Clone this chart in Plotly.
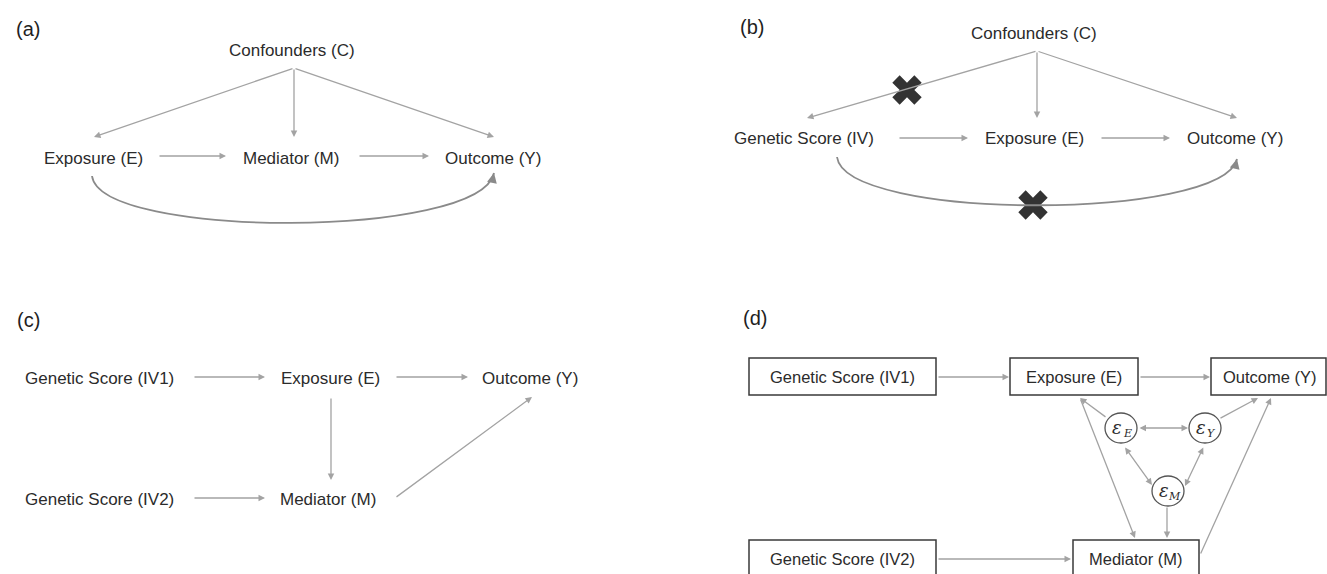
import plotly.graph_objects as go

# ---------------- content (labels / graph structure) ----------------
panel_tags = ["(a)", "(b)", "(c)", "(d)"]

a_nodes = ["Confounders (C)", "Exposure (E)", "Mediator (M)", "Outcome (Y)"]
a_edges = [("C", "E"), ("C", "M"), ("C", "Y"), ("E", "M"), ("M", "Y")]

b_nodes = ["Confounders (C)", "Genetic Score (IV)", "Exposure (E)", "Outcome (Y)"]
b_edges = [("C", "IV"), ("C", "E"), ("C", "Y"), ("IV", "E"), ("E", "Y")]

c_nodes = ["Genetic Score (IV1)", "Exposure (E)", "Outcome (Y)",
           "Genetic Score (IV2)", "Mediator (M)"]
c_edges = [("IV1", "E"), ("E", "Y"), ("E", "M"), ("IV2", "M"), ("M", "Y")]

d_nodes = ["Genetic Score (IV1)", "Exposure (E)", "Outcome (Y)",
           "Genetic Score (IV2)", "Mediator (M)"]
d_error_symbol = "ε"
d_error_subs = ["E", "Y", "M"]
d_edges = [("IV1", "E"), ("E", "Y"), ("IV2", "M"), ("E", "M"), ("M", "Y"),
           ("eE", "E"), ("eY", "Y"), ("eM", "M")]
d_double = [("eE", "eY"), ("eE", "eM"), ("eY", "eM")]

# ---------------- geometry (pixel layout) ----------------
W, H = 1327, 574
tag_pos = [(28, 29), (752, 27), (28, 320), (755, 318)]

a_pos = [(292, 50), (93, 158), (291, 158), (493, 158)]
a_seg = [((294, 68), (94, 137)), ((294, 68), (294, 137)), ((294, 68), (494, 137)),
         ((158, 156), (226, 156)), ((358, 156), (429, 156))]
a_curve = [(92, 176), (100, 239), (480, 239), (494, 173)]

b_pos = [(1034, 33), (804, 138), (1034, 138), (1235, 138)]
b_seg = [((1037, 51), (807, 118)), ((1037, 51), (1037, 118)), ((1037, 51), (1237, 118)),
         ((898, 138), (968, 138)), ((1100, 138), (1170, 138))]
b_curve = [(837, 157), (845, 221), (1222, 221), (1237, 159)]
b_cross = [(907, 90), (1033, 205)]

c_pos = [(99, 378), (330, 378), (530, 378), (99, 499), (328, 499)]
c_seg = [((193, 377), (265, 377)), ((395, 377), (468, 377)), ((331, 397), (331, 480)),
         ((193, 498), (265, 498)), ((395, 498), (532, 397))]

d_boxes = [(749, 358, 936, 395), (1010, 358, 1138, 395), (1211, 358, 1326, 395),
           (749, 540, 936, 590), (1073, 540, 1199, 590)]
d_pos = [(842, 377), (1074, 377), (1270, 377), (842, 559), (1136, 559)]
d_err_pos = [(1121, 428), (1205, 428), (1168, 491)]
d_seg = [((937, 377), (1009, 377)), ((1139, 377), (1210, 377)), ((937, 559), (1071, 559)),
         ((1080, 398), (1135, 538)), ((1200, 555), (1271, 398)),
         ((1107, 418), (1080, 398)), ((1219, 419), (1258, 398)), ((1167, 506), (1167, 538))]
d_dseg = [((1138, 428), (1188, 428)), ((1124, 446), (1152, 485)), ((1204, 446), (1185, 486))]

TXT = "#2b2b2b"
ARR = "#a3a3a3"
CURV = "#8a8a8a"
FONT = "Liberation Sans, Arial, sans-serif"
SERIF = "DejaVu Serif, serif"

fig = go.Figure()
shapes = []
annots = []


def text(x, y, s, size=17, color=TXT, family=FONT):
    annots.append(dict(x=x, y=y, xref="x", yref="y", text=s, showarrow=False,
                       font=dict(family=family, size=size, color=color),
                       xanchor="center", yanchor="middle"))


def arrow(tail, tip, both=False, color=ARR, width=1.3, size=1.0):
    d = dict(x=tip[0], y=tip[1], ax=tail[0], ay=tail[1], xref="x", yref="y",
             axref="x", ayref="y", text="", showarrow=True, arrowhead=2,
             arrowsize=size, arrowwidth=width, arrowcolor=color,
             standoff=0, startstandoff=0)
    if both:
        d.update(arrowside="end+start", startarrowhead=2, startarrowsize=size)
    annots.append(d)


def curve(p, color=CURV, width=1.8):
    (x0, y0), (x1, y1), (x2, y2), (x3, y3) = p
    shapes.append(dict(type="path", xref="x", yref="y",
                       path=f"M {x0},{y0} C {x1},{y1} {x2},{y2} {x3},{y3}",
                       line=dict(color=color, width=width)))
    dx, dy = x3 - x2, y3 - y2
    arrow((x3 - dx * 0.12, y3 - dy * 0.12), (x3, y3), color=color, width=width, size=1.1)


# panel tags
for t, (x, y) in zip(panel_tags, tag_pos):
    text(x, y, t, size=20, color="#1f1f1f")

# (a)
for s, (x, y) in zip(a_nodes, a_pos):
    text(x, y, s)
for (tail, tip) in a_seg:
    arrow(tail, tip)
curve(a_curve)

# (b)
for s, (x, y) in zip(b_nodes, b_pos):
    text(x, y, s)
for (tail, tip) in b_seg:
    arrow(tail, tip)
curve(b_curve)
fig.add_trace(go.Scatter(x=[p[0] for p in b_cross], y=[p[1] for p in b_cross],
                         mode="markers", hoverinfo="skip", showlegend=False,
                         marker=dict(symbol="x", size=26, color="#333333",
                                     line=dict(width=0))))

# (c)
for s, (x, y) in zip(c_nodes, c_pos):
    text(x, y, s)
for (tail, tip) in c_seg:
    arrow(tail, tip)

# (d)
for (x0, y0, x1, y1) in d_boxes:
    shapes.append(dict(type="rect", xref="x", yref="y", x0=x0, y0=y0, x1=x1, y1=y1,
                       line=dict(color="#3a3a3a", width=1.5), fillcolor="rgba(0,0,0,0)"))
for s, (x, y) in zip(d_nodes, d_pos):
    text(x, y, s, size=16.5)
for sub, (x, y) in zip(d_error_subs, d_err_pos):
    shapes.append(dict(type="circle", xref="x", yref="y", x0=x - 16, x1=x + 16,
                       y0=y - 15, y1=y + 15, line=dict(color="#555555", width=1.3)))
    text(x - 4, y - 1, "<i>" + d_error_symbol + "</i>", size=18, family=SERIF)
    text(x + 6, y + 5, "<i>" + sub + "</i>", size=11, family=SERIF)
for (tail, tip) in d_seg:
    arrow(tail, tip)
for (tail, tip) in d_dseg:
    arrow(tail, tip, both=True)

fig.update_layout(
    width=W, height=H, margin=dict(l=0, r=0, t=0, b=0),
    paper_bgcolor="white", plot_bgcolor="white",
    xaxis=dict(range=[0, W], visible=False, fixedrange=True),
    yaxis=dict(range=[H, 0], visible=False, fixedrange=True),
    shapes=shapes, annotations=annots, showlegend=False,
)

fig.write_html("out.html", config={"displayModeBar": False},
               post_script="document.body.style.margin='0';")
